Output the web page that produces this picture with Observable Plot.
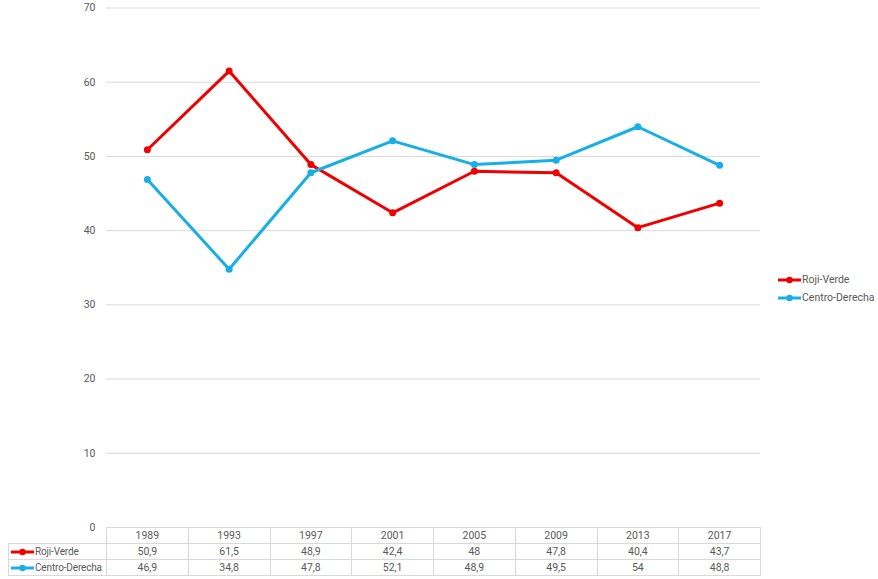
<!DOCTYPE html>
<html><head><meta charset="utf-8">
<script src="https://cdn.jsdelivr.net/npm/d3@7"></script>
<script src="https://cdn.jsdelivr.net/npm/@observablehq/plot@0.6"></script>
<style>
body{margin:0;background:#fff;}
#wrap{position:relative;width:878px;height:579px;font-family:Roboto,"Liberation Sans",sans-serif;color:#595959;font-size:10.5px;}
#wrap svg.chart{position:absolute;left:0;top:0;}
table.dt{position:absolute;border-collapse:collapse;table-layout:fixed;font-size:10.5px;color:#595959;}
table.dt td{border:1px solid #d9d9d9;text-align:center;padding:0;white-space:nowrap;overflow:hidden;}
table.dt td.corner{border-top:none;border-left:none;border-bottom:none;}
table.dt td.lab{text-align:left;font-size:10px;letter-spacing:-0.15px;}
.sw{vertical-align:middle;margin-right:1px;}
.leg{position:absolute;left:776px;white-space:nowrap;font-size:10.5px;line-height:14px;}
</style></head>
<body><div id="wrap"></div>
<script>
const years = ["1989","1993","1997","2001","2005","2009","2013","2017"];
const rojiVerde = [50.9,61.5,48.9,42.4,48,47.8,40.4,43.7];
const centroDerecha = [46.9,34.8,47.8,52.1,48.9,49.5,54,48.8];
const seriesNames = ["Roji-Verde","Centro-Derecha"];
const seriesColors = ["#f00000","#18aee6"];
const seriesValues = [rojiVerde, centroDerecha];
const yTicks = [0,10,20,30,40,50,60,70];
const fmt = v => String(v).replace(".", ",");

const rows = seriesNames.flatMap((s, i) => years.map((y, j) => ({series: s, year: y, value: seriesValues[i][j]})));

const plot = Plot.plot({
  width: 878, height: 579,
  marginLeft: 106, marginRight: 118, marginTop: 7.5, marginBottom: 52,
  style: {fontFamily: 'Roboto,"Liberation Sans",sans-serif', fontSize: "10.5px", color: "#595959", background: "transparent"},
  x: {type: "point", domain: years, padding: 0.5, round: false, axis: null},
  y: {domain: [0, 70], ticks: yTicks, tickSize: 0, tickPadding: 11, label: null, tickFormat: d => String(d)},
  color: {domain: seriesNames, range: seriesColors},
  marks: [
    Plot.ruleY(yTicks, {stroke: "#d9d9d9", strokeWidth: 1}),
    Plot.line(rows, {x: "year", y: "value", z: "series", stroke: "series", strokeWidth: 3, strokeLinejoin: "round"}),
    Plot.dot(rows, {x: "year", y: "value", fill: "series", r: 3.5, stroke: "none"})
  ]
});
plot.classList.add("chart");
const wrap = document.getElementById("wrap");
wrap.appendChild(plot);

// data table built from the x scale
const xs = plot.scale("x");
const step = xs.apply(years[1]) - xs.apply(years[0]);
const x0 = xs.apply(years[0]) - step / 2;
const labelLeft = 8;
const labelW = x0 - labelLeft;
const tableTop = 527;

function swatch(color) {
  return `<svg class="sw" width="25" height="8"><line x1="2" x2="25" y1="4" y2="4" stroke="${color}" stroke-width="3"/><circle cx="13.5" cy="4" r="3.2" fill="${color}"/></svg>`;
}
let html = `<table class="dt" style="left:${labelLeft}px;top:${tableTop}px;width:${labelW + step * years.length}px"><colgroup><col style="width:${labelW}px">` +
  years.map(() => `<col style="width:${step}px">`).join("") + `</colgroup>`;
html += `<tr style="height:16px"><td class="corner"></td>` + years.map(y => `<td>${y}</td>`).join("") + `</tr>`;
seriesNames.forEach((s, i) => {
  html += `<tr style="height:16px"><td class="lab">${swatch(seriesColors[i])}${s}</td>` +
    seriesValues[i].map(v => `<td>${fmt(v)}</td>`).join("") + `</tr>`;
});
html += `</table>`;
// legend
const legTops = [273, 291];
seriesNames.forEach((s, i) => {
  html += `<div class="leg" style="top:${legTops[i]}px">${swatch(seriesColors[i])}${s}</div>`;
});
wrap.insertAdjacentHTML("beforeend", html);
</script>
</body></html>
